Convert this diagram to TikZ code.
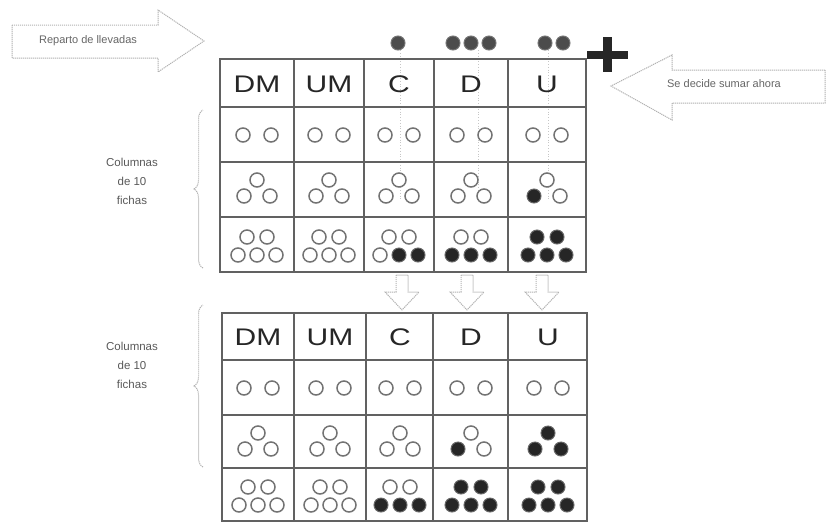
\documentclass[tikz,border=0pt]{standalone}
\usepackage{fontspec}
\setmainfont{Liberation Sans}
\usepackage{graphicx}
\usetikzlibrary{decorations.pathreplacing}
\newcommand\twochips[4]{%
  \draw[#3] (#1-14,#2) circle (7pt);
  \draw[#4] (#1+14,#2) circle (7pt);}
\newcommand\threechips[5]{%
  \draw[#3] (#1,#2-10) circle (7pt);
  \draw[#4] (#1-13,#2+6) circle (7pt);
  \draw[#5] (#1+13,#2+6) circle (7pt);}
\newcommand\fivechips[7]{%
  \draw[#3] (#1-10,#2-8) circle (7pt);
  \draw[#4] (#1+10,#2-8) circle (7pt);
  \draw[#5] (#1-19,#2+10) circle (7pt);
  \draw[#6] (#1,#2+10) circle (7pt);
  \draw[#7] (#1+19,#2+10) circle (7pt);}
\begin{document}
\begin{tikzpicture}[x=1pt,y=-1pt,
  grid/.style={draw=black!62, line width=2.2pt},
  hol/.style={draw=black!55, line width=1.5pt, fill=white},
  blk/.style={draw=black!60, line width=1pt, fill=black!85},
  topchip/.style={draw=black!55, line width=1pt, fill=black!70},
  hdr/.style={font=\fontsize{24}{24}\selectfont, text=black!85, inner sep=0pt},
  lbl/.style={font=\fontsize{11.5}{19}\selectfont, text=black!65, align=center, inner sep=0pt},
  blockarrow/.style={draw=gray!60, line width=1pt, dash pattern=on 1.2pt off 0.8pt, fill=white},
  arrtxt/.style={font=\fontsize{11}{12}\selectfont, text=black!60, inner sep=0pt},
  guide/.style={draw=gray!45, line width=0.8pt, dotted},
  brk/.style={draw=gray!60, line width=1pt, dash pattern=on 1.2pt off 0.8pt, decorate, decoration={brace, amplitude=9pt}}
]
\useasboundingbox (0,0) rectangle (827,523);

% block arrows with labels
\draw[blockarrow] (12,25) -- (158,25) -- (158,10) -- (204,41) -- (158,72) -- (158,58) -- (12,58) -- cycle;
\node[arrtxt] (lt) at (88,41) {Reparto de llevadas};
\draw[blockarrow] (825,70) -- (672,70) -- (672,55) -- (611,86) -- (672,120) -- (672,103) -- (825,103) -- cycle;
\node[arrtxt] (rt) at (724,84) {Se decide sumar ahora};

% chips carried above the table
\draw[topchip] (398,43) circle (7pt);
\foreach \cx in {453,471,489} \draw[topchip] (\cx,43) circle (7pt);
\foreach \cx in {545,563} \draw[topchip] (\cx,43) circle (7pt);

% plus sign
\fill[black!85] (587,51) rectangle (628,59);
\fill[black!85] (603,37) rectangle (612,72);

% upper table
\foreach \gx in {400,478,548} \draw[guide] (\gx,50) -- (\gx,200);
\draw[grid] (220,59) rectangle (586,272);
\foreach \x in {294,364,434,508} \draw[grid] (\x,59) -- (\x,272);
\foreach \y in {107,162,217} \draw[grid] (220,\y) -- (586,\y);
\node[hdr] (tDM) at (257,84) {\scalebox{1.25}[1]{DM}};
\node[hdr] (tUM) at (329,84) {\scalebox{1.25}[1]{UM}};
\node[hdr] (tC) at (399,84) {\scalebox{1.25}[1]{C}};
\node[hdr] (tD) at (471,84) {\scalebox{1.25}[1]{D}};
\node[hdr] (tU) at (547,84) {\scalebox{1.25}[1]{U}};
\foreach \cx in {257,329,399,471,547} {\twochips{\cx}{135}{hol}{hol}}
\threechips{257}{190}{hol}{hol}{hol}
\threechips{329}{190}{hol}{hol}{hol}
\threechips{399}{190}{hol}{hol}{hol}
\threechips{471}{190}{hol}{hol}{hol}
\threechips{547}{190}{hol}{blk}{hol}
\fivechips{257}{245}{hol}{hol}{hol}{hol}{hol}
\fivechips{329}{245}{hol}{hol}{hol}{hol}{hol}
\fivechips{399}{245}{hol}{hol}{hol}{blk}{blk}
\fivechips{471}{245}{hol}{hol}{blk}{blk}{blk}
\fivechips{547}{245}{blk}{blk}{blk}{blk}{blk}

% brace + label upper
\draw[brk] (203,268) -- (203,110);
\node[lbl] (lab1) at (132,181) {Columnas\\de 10\\fichas};

% down arrows
\foreach \cx in {402,467,542}
  \draw[blockarrow] (\cx-6,275) -- (\cx-6,292) -- (\cx-17,292) -- (\cx,310) -- (\cx+17,292) -- (\cx+6,292) -- (\cx+6,275) -- cycle;

% lower table
\draw[grid] (222,313) rectangle (587,521);
\foreach \x in {294,366,433,508} \draw[grid] (\x,313) -- (\x,521);
\foreach \y in {360,415,468} \draw[grid] (222,\y) -- (587,\y);
\node[hdr] (bDM) at (258,337) {\scalebox{1.25}[1]{DM}};
\node[hdr] (bUM) at (330,337) {\scalebox{1.25}[1]{UM}};
\node[hdr] (bC) at (400,337) {\scalebox{1.25}[1]{C}};
\node[hdr] (bD) at (471,337) {\scalebox{1.25}[1]{D}};
\node[hdr] (bU) at (548,337) {\scalebox{1.25}[1]{U}};
\foreach \cx in {258,330,400,471,548} {\twochips{\cx}{388}{hol}{hol}}
\threechips{258}{443}{hol}{hol}{hol}
\threechips{330}{443}{hol}{hol}{hol}
\threechips{400}{443}{hol}{hol}{hol}
\threechips{471}{443}{hol}{blk}{hol}
\threechips{548}{443}{blk}{blk}{blk}
\fivechips{258}{495}{hol}{hol}{hol}{hol}{hol}
\fivechips{330}{495}{hol}{hol}{hol}{hol}{hol}
\fivechips{400}{495}{hol}{hol}{blk}{blk}{blk}
\fivechips{471}{495}{blk}{blk}{blk}{blk}{blk}
\fivechips{548}{495}{blk}{blk}{blk}{blk}{blk}

% brace + label lower
\draw[brk] (203,467) -- (203,305);
\node[lbl] (lab2) at (132,365) {Columnas\\de 10\\fichas};
\end{tikzpicture}
\end{document}
